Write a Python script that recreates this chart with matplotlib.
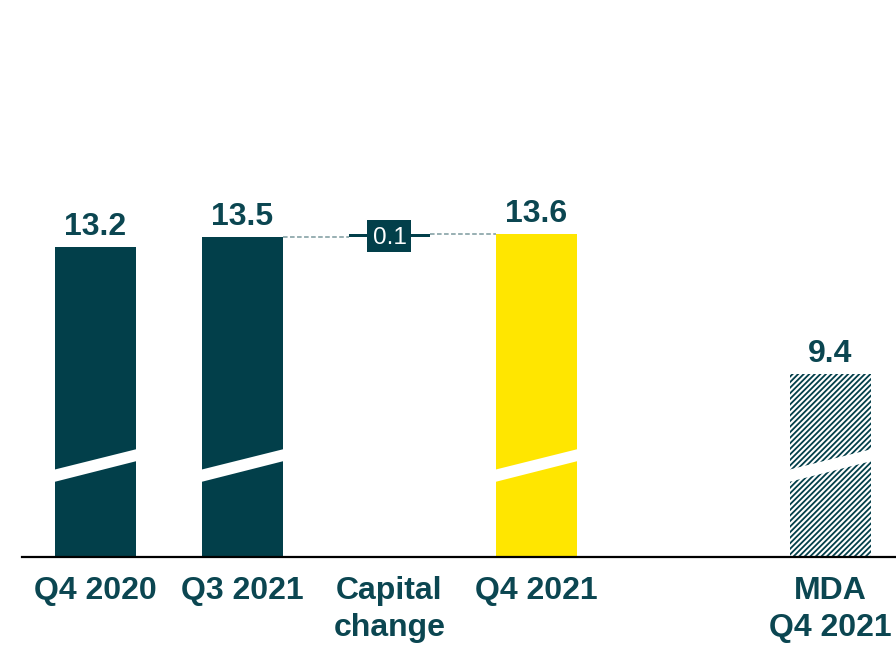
import matplotlib
matplotlib.use("Agg")
import matplotlib.pyplot as plt
from matplotlib.patches import Polygon, Rectangle

# ---- data ----
categories = ["Q4 2020", "Q3 2021", "Capital\nchange", "Q4 2021", "MDA\nQ4 2021"]
values = [13.2, 13.5, 0.1, 13.6, 9.4]
kinds = ["total", "total", "delta", "total", "mda"]
x_pos = [0, 1, 2, 3, 5]

# ---- style ----
TEAL = "#023f4a"
TEXT = "#0b4651"
YELLOW = "#ffe600"
DASH = "#7c9a9e"
BREAK = 3.89          # value hidden by the axis break
W = 0.551
PX_X = 147.0          # pixels per x unit
PX_Y = 33.2           # pixels per y unit

plt.rcParams["font.family"] = ["Liberation Sans", "DejaVu Sans"]
plt.rcParams["hatch.linewidth"] = 1.3

fig = plt.figure(figsize=(8.96, 6.45), dpi=100)
ax = fig.add_axes([22 / 896, (645 - 556.5) / 645, 874 / 896, 556.5 / 645])
ax.set_xlim(-0.5, 5.446)
ax.set_ylim(0, 16.76)

for s in ["top", "right", "left"]:
    ax.spines[s].set_visible(False)
ax.spines["bottom"].set_linewidth(1.6)
ax.spines["bottom"].set_color("black")
ax.spines["bottom"].set_zorder(5)
ax.set_yticks([])
ax.set_xticks(x_pos)
ax.set_xticklabels(categories, fontsize=23, fontweight="bold", color=TEXT,
                   linespacing=1.3)
ax.tick_params(axis="x", length=0, pad=14)

prev = None
for i, (x, v, k) in enumerate(zip(x_pos, values, kinds)):
    if k == "delta":
        base = prev
        ax.bar(x, v, bottom=base - BREAK, width=W, color=TEAL, zorder=2)
        yc = base + v / 2 - BREAK
        bw, bh = 44 / PX_X, 32 / PX_Y
        ax.add_patch(Rectangle((x - bw / 2, yc - bh / 2), bw, bh,
                               facecolor=TEAL, edgecolor="none", zorder=3))
        ax.text(x, yc, f"{v:.1f}", ha="center", va="center_baseline",
                fontsize=17.5, color="white", zorder=4)
        # connectors
        ax.plot([x_pos[i - 1] + W / 2, x - W / 2], [base - BREAK] * 2,
                ls=(0, (3, 1.6)), color=DASH, lw=1.1, zorder=1)
        ax.plot([x + W / 2, x_pos[i + 1] - W / 2], [base + v - BREAK] * 2,
                ls=(0, (3, 1.6)), color=DASH, lw=1.1, zorder=1)
        prev = base + v
        continue
    if k == "mda":
        ax.bar(x, v - BREAK, width=W, facecolor="white", edgecolor=TEAL,
               hatch="//////", linewidth=0, zorder=2)
    else:
        col = YELLOW if i == 3 else TEAL
        ax.bar(x, v - BREAK, width=W, color=col, zorder=2)
        prev = v
    ax.annotate(f"{v:.1f}", (x, v - BREAK), xytext=(0, 8.6),
                textcoords="offset points", ha="center", va="baseline",
                fontsize=23, fontweight="bold", color=TEXT)
    # axis-break stripe
    xl, xr = x - W / 2 - 0.01, x + W / 2 + 0.01
    ax.add_patch(Polygon([(xl, 2.24), (xr, 2.88), (xr, 3.24), (xl, 2.61)],
                         closed=True, facecolor="white", edgecolor="none", zorder=3))

fig.savefig("out.png", dpi=100, facecolor="white")
